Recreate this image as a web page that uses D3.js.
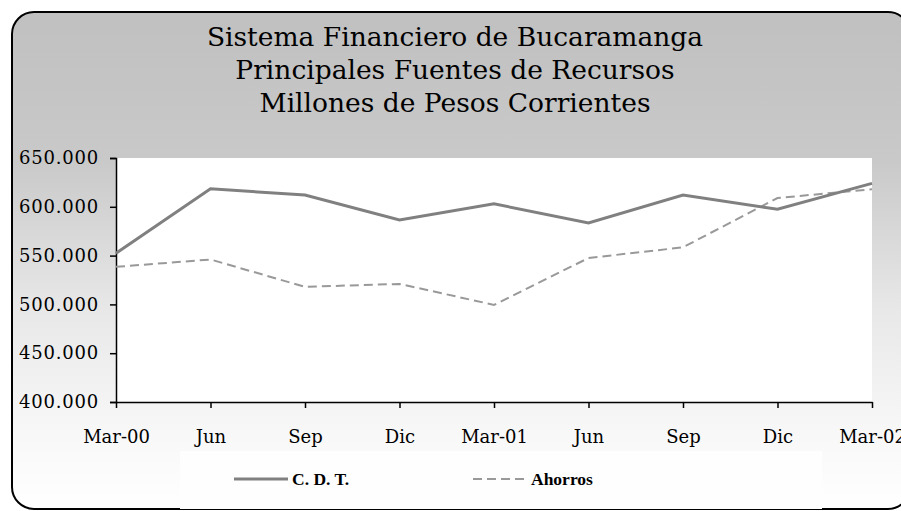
<!DOCTYPE html>
<html>
<head>
<meta charset="utf-8">
<script src="https://cdn.jsdelivr.net/npm/d3@7"></script>
<style>
  body { margin: 0; background: #ffffff; }
  svg { display: block; }
  .title { font-family: "DejaVu Serif", serif; font-size: 26.5px; fill: #000; }
  .y-axis text { font-family: "DejaVu Serif", serif; font-size: 18px; fill: #000; letter-spacing: 0.8px; }
  .x-axis text { font-family: "DejaVu Serif", serif; font-size: 18px; fill: #000; }
  .legend text { font-family: "Liberation Serif", serif; font-size: 17.5px; font-weight: bold; fill: #000; }
</style>
</head>
<body>
<script>
//chart data
var categories = ["Mar-00", "Jun", "Sep", "Dic", "Mar-01", "Jun", "Sep", "Dic", "Mar-02"];
var cdt = [552500, 618500, 612000, 586500, 603000, 583500, 612000, 597500, 624000];
var ahorros = [538500, 546000, 518000, 521000, 499500, 547500, 558500, 609000, 618000];
var series_names = ["C. D. T.", "Ahorros"];
var y_ticks = [400000, 450000, 500000, 550000, 600000, 650000];
var title_lines = ["Sistema Financiero de Bucaramanga", "Principales Fuentes de Recursos", "Millones de Pesos Corrientes"];

//svg size and plot area
var width = 901, height = 511;
var plot = {left: 116, right: 872, top: 158, bottom: 402};

var svg = d3.select("body").append("svg")
    .attr("width", width)
    .attr("height", height);

//background gradient for the chart frame
var grad = svg.append("defs").append("linearGradient")
    .attr("id", "bg")
    .attr("x1", 0).attr("y1", 0)
    .attr("x2", 0).attr("y2", 1);
grad.append("stop").attr("offset", "0").attr("stop-color", "#c0c0c0");
grad.append("stop").attr("offset", "0.3").attr("stop-color", "#c9c9c9");
grad.append("stop").attr("offset", "0.6").attr("stop-color", "#e8e8e8");
grad.append("stop").attr("offset", "0.85").attr("stop-color", "#f8f8f8");
grad.append("stop").attr("offset", "1").attr("stop-color", "#ffffff");

svg.append("rect")
    .attr("x", 12).attr("y", 12)
    .attr("width", 898).attr("height", 497)
    .attr("rx", 22).attr("ry", 22)
    .attr("fill", "url(#bg)")
    .attr("stroke", "#000")
    .attr("stroke-width", 2);

//title
svg.append("g").selectAll("text")
    .data(title_lines)
    .enter().append("text")
    .attr("class", "title")
    .attr("x", 455)
    .attr("y", (d, i) => 46 + i * 33)
    .attr("text-anchor", "middle")
    .text(d => d);

//scales
var x = d3.scalePoint()
    .domain(d3.range(categories.length))
    .range([plot.left, plot.right]);

var y = d3.scaleLinear()
    .domain([400000, 650000])
    .range([plot.bottom, plot.top]);

var locale = d3.formatLocale({decimal: ",", thousands: ".", grouping: [3], currency: ["$", ""]});
var fmt = locale.format(",.0f");

//white plot area
svg.append("rect")
    .attr("x", plot.left)
    .attr("y", plot.top)
    .attr("width", plot.right - plot.left)
    .attr("height", plot.bottom - plot.top)
    .attr("fill", "#ffffff");

//legend box
svg.append("rect")
    .attr("x", 180).attr("y", 451)
    .attr("width", 642).attr("height", 58)
    .attr("fill", "#fefefe");

//y axis
var y_axis = svg.append("g")
    .attr("class", "y-axis")
    .attr("transform", "translate(" + plot.left + ",0)")
    .call(d3.axisLeft(y).tickValues(y_ticks).tickFormat(fmt).tickSize(6).tickPadding(11));
y_axis.selectAll("line, path").attr("stroke", "#000").attr("stroke-width", 1.5);

//x axis
var x_axis = svg.append("g")
    .attr("class", "x-axis")
    .attr("transform", "translate(0," + plot.bottom + ")")
    .call(d3.axisBottom(x).tickFormat(i => categories[i]).tickSize(6).tickSizeOuter(0).tickPadding(22));
x_axis.selectAll("line, path").attr("stroke", "#000").attr("stroke-width", 1.5);

//lines
var line = d3.line()
    .x((d, i) => x(i))
    .y(d => y(d));

svg.append("path")
    .datum(ahorros)
    .attr("d", line)
    .attr("fill", "none")
    .attr("stroke", "#999999")
    .attr("stroke-width", 2)
    .attr("stroke-dasharray", "9,5");

svg.append("path")
    .datum(cdt)
    .attr("d", line)
    .attr("fill", "none")
    .attr("stroke", "#808080")
    .attr("stroke-width", 3);

//legend
var legend = svg.append("g").attr("class", "legend");
var legend_items = [
    {name: series_names[0], x: 234, stroke: "#808080", w: 3, dash: null},
    {name: series_names[1], x: 473, stroke: "#999999", w: 2, dash: "9,5"}
];
legend_items.forEach(function(d) {
    legend.append("line")
        .attr("x1", d.x).attr("x2", d.x + 54)
        .attr("y1", 479).attr("y2", 479)
        .attr("stroke", d.stroke)
        .attr("stroke-width", d.w)
        .attr("stroke-dasharray", d.dash);
    legend.append("text")
        .attr("x", d.x + 58)
        .attr("y", 485)
        .text(d.name);
});
</script>
</body>
</html>
